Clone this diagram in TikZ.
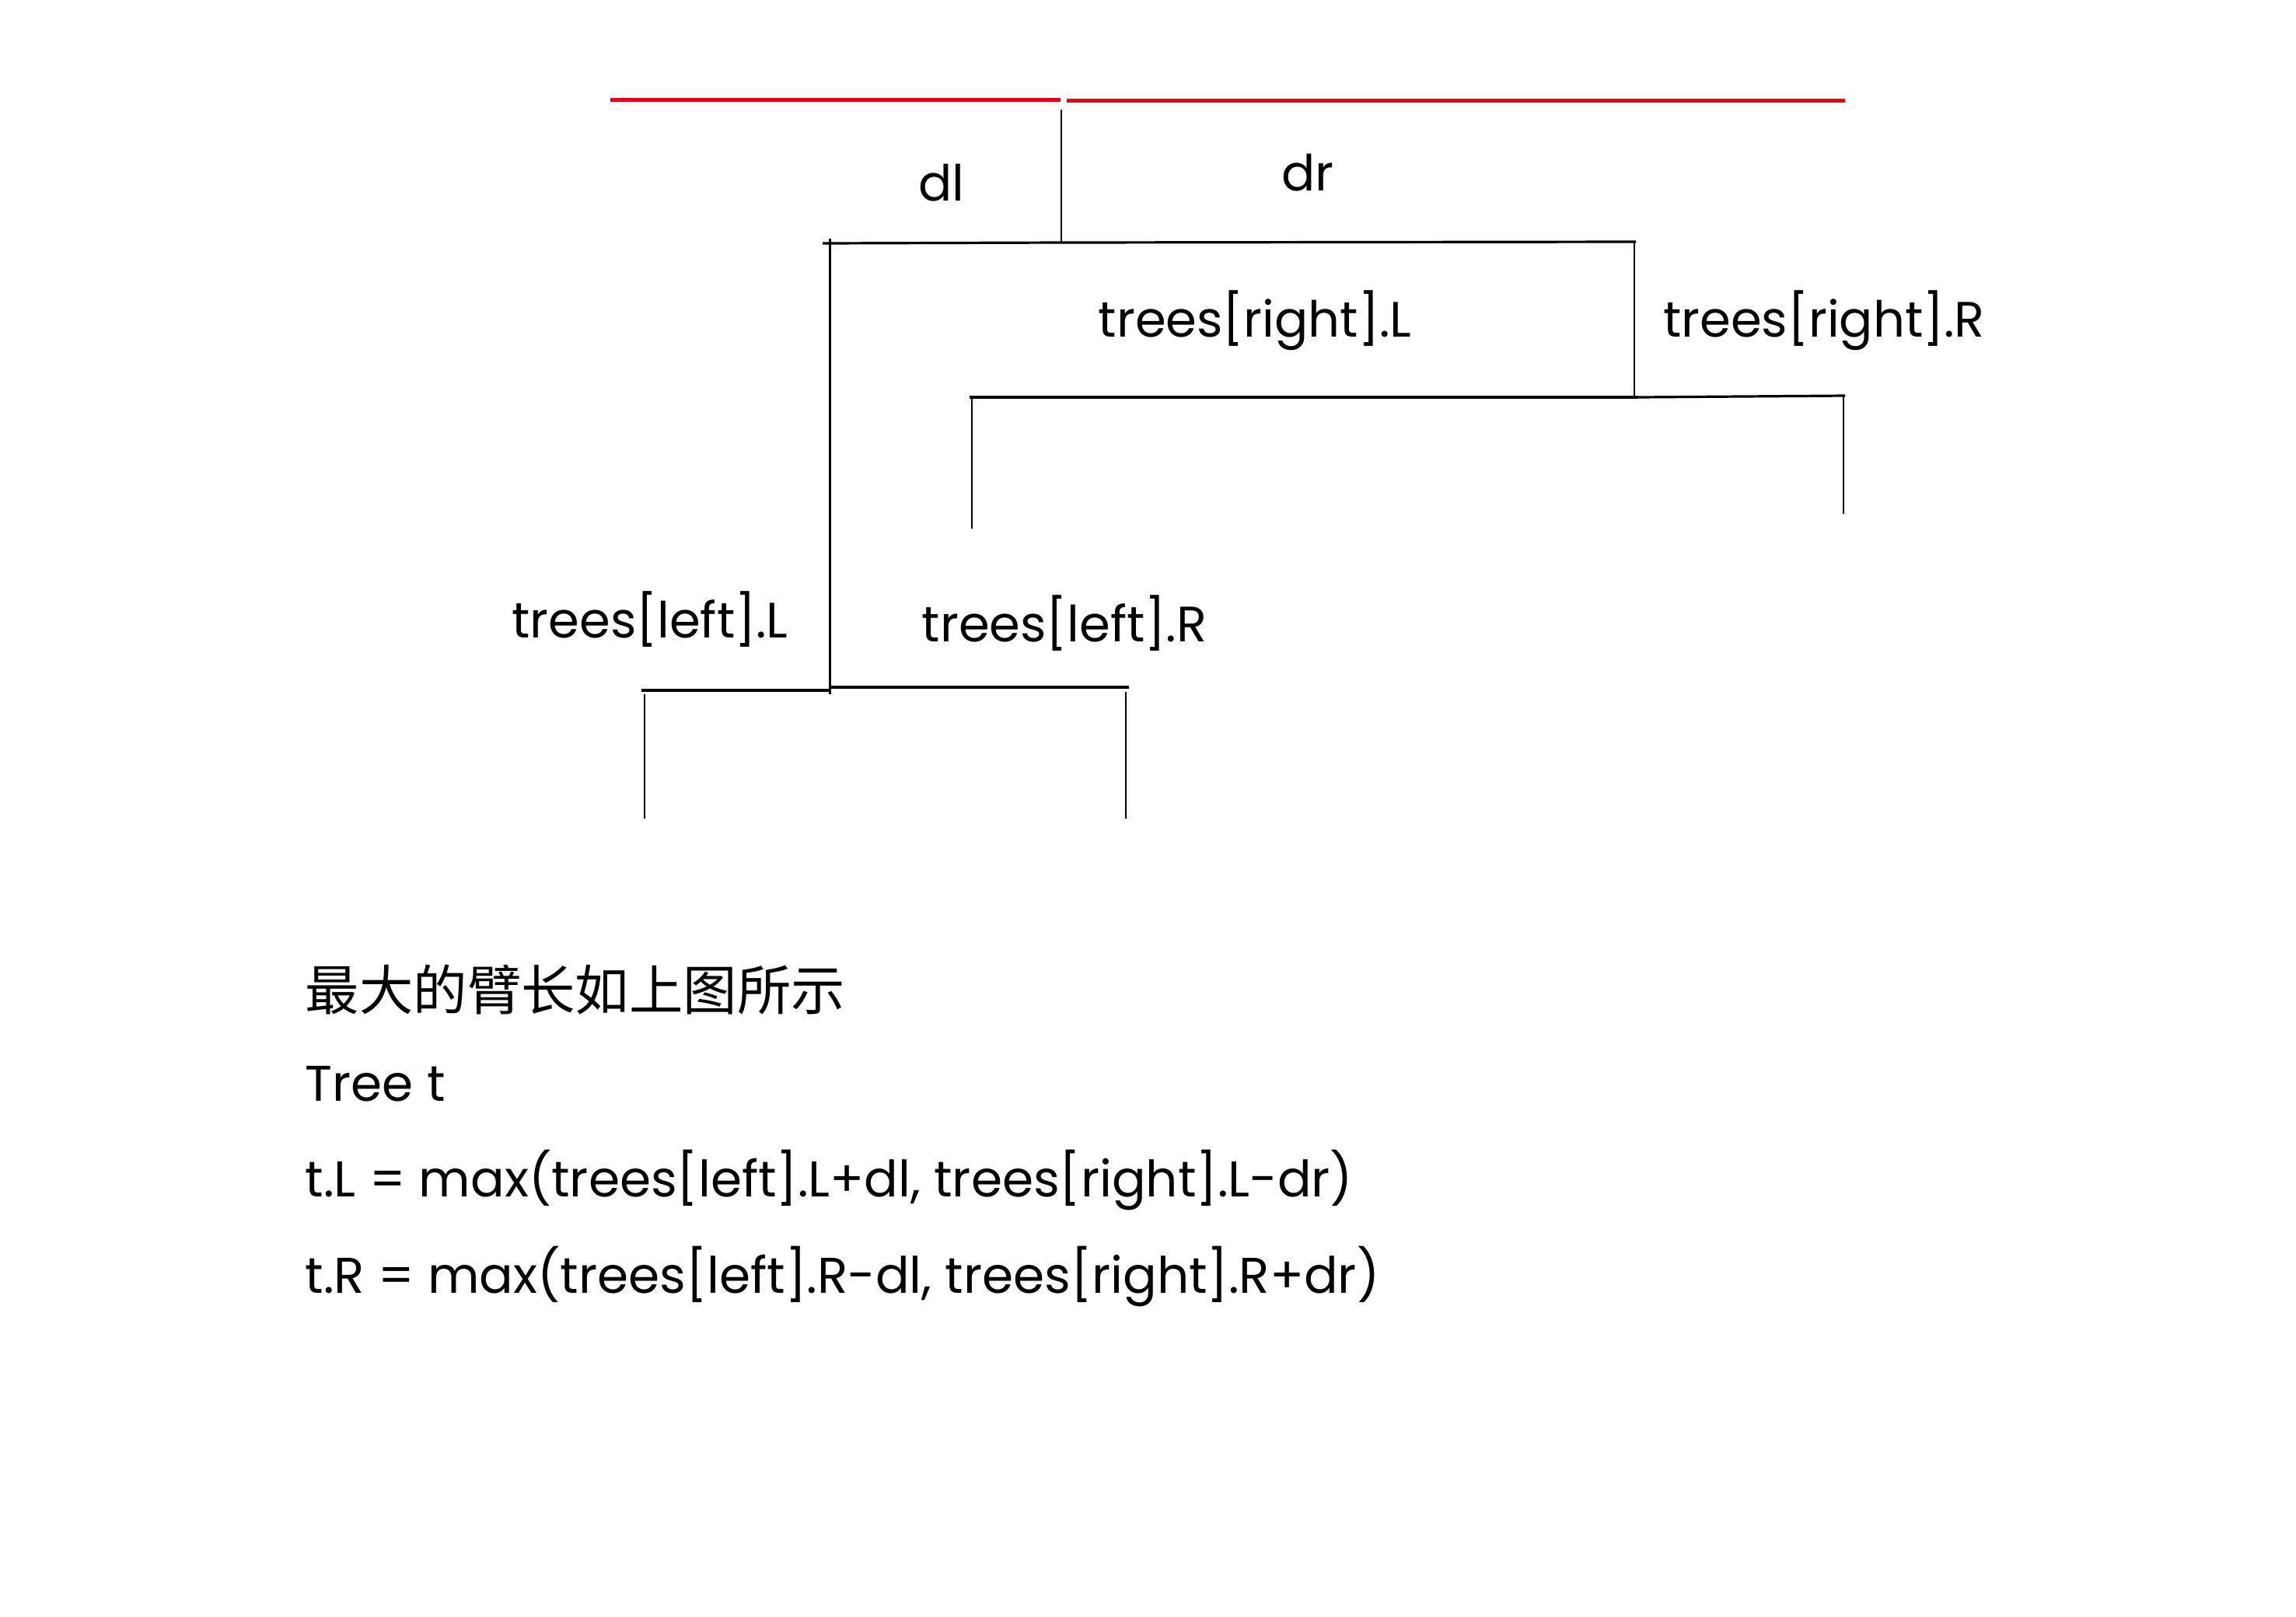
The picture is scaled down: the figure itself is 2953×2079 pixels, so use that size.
\documentclass[tikz,border=0pt]{standalone}
\usepackage{fontspec}
\setmainfont{Poppins}
\newfontfamily\cjk{Noto Sans CJK SC}
\begin{document}
\begin{tikzpicture}[x=0.25pt,y=-0.25pt,
  redline/.style={draw={rgb,255:red,230;green,0;blue,18},line width=1.25pt},
  hline/.style={draw=black,line width=0.8pt},
  vline/.style={draw=black,line width=0.6pt},
  lbl/.style={inner sep=0pt,font=\fontsize{16}{19}\selectfont},
  eq/.style={inner sep=0pt,anchor=west,font=\fontsize{16.15}{19}\selectfont}]
\useasboundingbox (0,0) rectangle (2953,2079);
% red top lines
\coordinate (r1a) at (785,128); \coordinate (r1b) at (1364,128);
\coordinate (r2a) at (1372,129.5); \coordinate (r2b) at (2373,129.5);
\draw[redline] (r1a) -- (r1b);
\draw[redline] (r2a) -- (r2b);
% root
\coordinate (root) at (1365,141);
\coordinate (rootb) at (1365,312);
\coordinate (la) at (1058,313); \coordinate (ra) at (2104,311);
\draw[vline] (root) -- (rootb);
\draw[hline] (la) -- (rootb);
\draw[hline] (rootb) -- (ra);
% left subtree stem
\coordinate (lt) at (1067.5,307); \coordinate (lb) at (1067.5,893);
\draw[vline] (lt) -- (lb);
% right subtree stem
\coordinate (rt) at (2102,311); \coordinate (rb) at (2102,510);
\draw[vline] (rt) -- (rb);
% right subtree bar
\coordinate (rla) at (1247,511); \coordinate (rlb) at (2106,511);
\coordinate (rrb) at (2373,509);
\draw[hline] (rla) -- (rlb);
\draw[hline] (rlb) -- (rrb);
\coordinate (rl1) at (1250,513); \coordinate (rl2) at (1250,680);
\coordinate (rr1) at (2371,509); \coordinate (rr2) at (2371,661);
\draw[vline] (rl1) -- (rl2);
\draw[vline] (rr1) -- (rr2);
% left subtree bar
\coordinate (lla) at (825,888); \coordinate (llb) at (1068,888);
\coordinate (lrb) at (1452,884);
\draw[hline] (lla) -- (llb);
\draw[hline] (llb |- lrb) -- (lrb);
\coordinate (ll1) at (829,893); \coordinate (ll2) at (829,1053);
\coordinate (lr1) at (1448,890); \coordinate (lr2) at (1448,1053);
\draw[vline] (ll1) -- (ll2);
\draw[vline] (lr1) -- (lr2);
% labels
\node[lbl] (dl) at (1211,235) {dl};
\node[lbl] (dr) at (1682,222) {dr};
\node[lbl] (trL) at (1614,412) {trees[right].L};
\node[lbl] (trR) at (2346,412) {trees[right].R};
\node[lbl] (tlL) at (836,797) {trees[left].L};
\node[lbl] (tlR) at (1369,802) {trees[left].R};
% text
\node[eq,font=\cjk\fontsize{17.35}{20}\selectfont] (cn) at (392,1273) {最大的臂长如上图所示};
\node[eq] (tt) at (392,1394) {Tree t};
\node[eq] (e1) at (392,1518) {t.L = max(trees[left].L+dl, trees[right].L-dr)};
\node[eq] (e2) at (392,1642) {t.R = max(trees[left].R-dl, trees[right].R+dr)};
\end{tikzpicture}
\end{document}
